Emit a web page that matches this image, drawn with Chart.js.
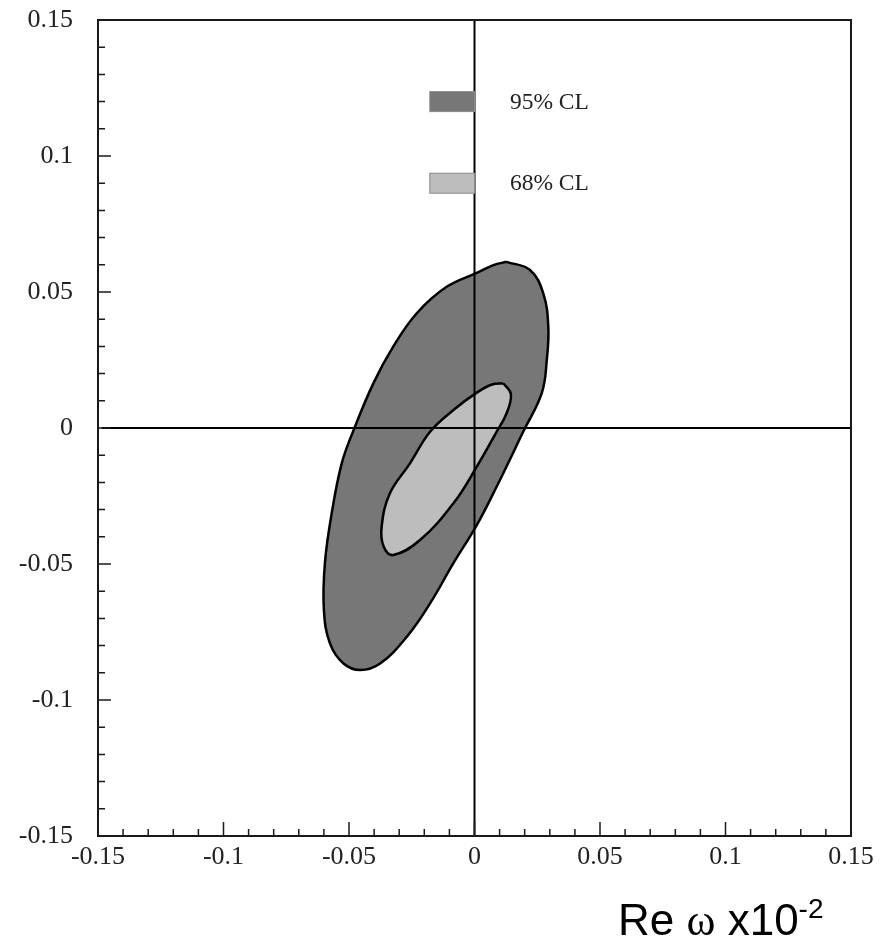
<!DOCTYPE html>
<html>
<head>
<meta charset="utf-8">
<script src="https://cdn.jsdelivr.net/npm/chart.js@4.4.1/dist/chart.umd.min.js"></script>
<style>body{margin:0;background:#fff}</style>
</head>
<body>
<canvas id="graphique" width="892" height="940"></canvas>
<script>
// axes : memes graduations sur x et y
var tickValues = [-0.15, -0.1, -0.05, 0, 0.05, 0.1, 0.15];
var tickLabels = ['-0.15', '-0.1', '-0.05', '0', '0.05', '0.1', '0.15'];
var minorStep = 0.01;

// contour 95% CL
var cl95X = [0.0128, 0.0221, 0.0274, 0.0294, 0.0288, 0.0268, 0.0194, 0.0088, 0.0009, -0.0084, -0.0177, -0.0270, -0.0376,
             -0.0456, -0.0523, -0.0576, -0.0600, -0.0596, -0.0569, -0.0529, -0.0483, -0.0403, -0.0324, -0.0230, -0.0111,
             0.0011, 0.0075];
var cl95Y = [0.0611, 0.0581, 0.0495, 0.0373, 0.0250, 0.0128, -0.0014, -0.0216, -0.0357, -0.0497, -0.0645, -0.0768, -0.0866,
             -0.0890, -0.0865, -0.0792, -0.0669, -0.0497, -0.0314, -0.0130, -0.0011, 0.0164, 0.0299, 0.0422, 0.0519,
             0.0571, 0.0599];

// contour 68% CL
var cl68X = [0.0115, 0.0145, 0.0128, 0.0088, 0.0009, -0.0084, -0.0217, -0.0324, -0.0362, -0.0370, -0.0337, -0.0257,
             -0.0177, -0.0084, 0.0009, 0.0070];
var cl68Y = [0.0164, 0.0125, 0.0054, -0.0014, -0.0142, -0.0277, -0.0412, -0.0467, -0.0436, -0.0363, -0.0240, -0.0130,
             -0.0014, 0.0066, 0.0130, 0.0160];

var legendLabels = ['95% CL', '68% CL'];
var legendColors = ['#777777', '#bdbdbd'];

function points(xs, ys) {
  var p = [];
  for (var i = 0; i < xs.length; i++) {
    p.push({x: xs[i], y: ys[i]});
  }
  p.push({x: xs[0], y: ys[0]}); // on referme le contour
  return p;
}

var serif = '"Liberation Serif", "Times New Roman", serif';

/* cadre, petites graduations, legende et titre de l'axe x */
var decor = {
  id: 'decor',
  afterDraw: function(chart) {
    var ctx = chart.ctx;
    var a = chart.chartArea;
    var sx = chart.scales.x, sy = chart.scales.y;
    ctx.save();
    ctx.strokeStyle = '#1a1a1a';
    ctx.lineWidth = 2;
    ctx.strokeRect(a.left, a.top, a.right - a.left, a.bottom - a.top);

    ctx.lineWidth = 1.5;
    ctx.beginPath();
    for (var k = -15; k <= 15; k++) {
      var v = k * minorStep;
      var major = (k % 5 === 0);
      if (k !== -15 && k !== 15) {
        var px = sx.getPixelForValue(v);
        ctx.moveTo(px, a.bottom);
        ctx.lineTo(px, a.bottom - (major ? 14 : 7));
        var py = sy.getPixelForValue(v);
        ctx.moveTo(a.left, py);
        ctx.lineTo(a.left + (major ? 13 : 7), py);
      }
    }
    ctx.stroke();

    // legende dans le graphique
    var bx0 = sx.getPixelForValue(-0.0178), bx1 = sx.getPixelForValue(0);
    var rows = [0.1200, 0.0900];
    ctx.font = '23.5px ' + serif;
    ctx.textBaseline = 'middle';
    ctx.textAlign = 'left';
    for (var i = 0; i < legendLabels.length; i++) {
      var cy = sy.getPixelForValue(rows[i]);
      ctx.fillStyle = legendColors[i];
      ctx.fillRect(bx0, cy - 10, bx1 - bx0, 20);
      ctx.strokeStyle = '#8a8a8a';
      ctx.lineWidth = 1;
      ctx.strokeRect(bx0, cy - 10, bx1 - bx0, 20);
      ctx.fillStyle = '#222';
      ctx.fillText(legendLabels[i], sx.getPixelForValue(0.0141), cy + 1);
    }

    // titre x : Re ω x10^-2
    var x = 618, base = 935;
    ctx.fillStyle = '#000';
    ctx.textBaseline = 'alphabetic';
    ctx.font = '44px "Liberation Sans", Arial, sans-serif';
    ctx.fillText('Re ', x, base);
    x += ctx.measureText('Re ').width;
    ctx.font = '44px ' + serif;
    ctx.fillText('ω', x, base);
    x += ctx.measureText('ω').width;
    ctx.font = '44px "Liberation Sans", Arial, sans-serif';
    ctx.fillText(' x10', x, base);
    x += ctx.measureText(' x10').width;
    ctx.font = '28px "Liberation Sans", Arial, sans-serif';
    ctx.fillText('-2', x, base - 17);
    ctx.restore();
  }
};

function axe(fit) {
  return {
    type: 'linear',
    min: -0.15,
    max: 0.15,
    grid: {display: false, drawTicks: false},
    border: {display: false},
    afterBuildTicks: function(scale) {
      scale.ticks = tickValues.map(function(v) { return {value: v}; });
    },
    afterFit: fit,
    ticks: {
      color: '#222',
      font: {family: serif, size: 26},
      callback: function(value, index) { return tickLabels[index]; }
    }
  };
}

var xAxe = axe(function(scale) { scale.height = 104; });
xAxe.ticks.padding = 6;
xAxe.ticks.maxRotation = 0;
var yAxe = axe(function(scale) {
  scale.width = 98;
  // le padding des etiquettes ne doit pas pousser le cadre vers le bas
  scale.paddingTop = 14;
  scale.paddingBottom = 14;
});
yAxe.ticks.padding = 25;

new Chart(document.getElementById('graphique'), {
  type: 'scatter',
  data: {
    datasets: [
      {
        label: 'axe x=0',
        data: [{x: 0, y: -0.15}, {x: 0, y: 0.15}],
        showLine: true, borderColor: '#000', borderWidth: 2, pointRadius: 0, order: 0
      },
      {
        label: 'axe y=0',
        data: [{x: -0.1485, y: 0}, {x: 0.15, y: 0}],
        showLine: true, borderColor: '#000', borderWidth: 2, pointRadius: 0, order: 0
      },
      {
        label: legendLabels[1],
        data: points(cl68X, cl68Y),
        showLine: true, fill: 'shape', tension: 0.4,
        backgroundColor: legendColors[1], borderColor: '#000', borderWidth: 2.5, pointRadius: 0, order: 1
      },
      {
        label: legendLabels[0],
        data: points(cl95X, cl95Y),
        showLine: true, fill: 'shape', tension: 0.4,
        backgroundColor: legendColors[0], borderColor: '#000', borderWidth: 2.5, pointRadius: 0, order: 2
      }
    ]
  },
  options: {
    responsive: false,
    animation: false,
    layout: {padding: {top: 20, right: 41, left: 0, bottom: 0}},
    plugins: {legend: {display: false}, tooltip: {enabled: false}},
    scales: {x: xAxe, y: yAxe}
  },
  plugins: [decor]
});
</script>
</body>
</html>
